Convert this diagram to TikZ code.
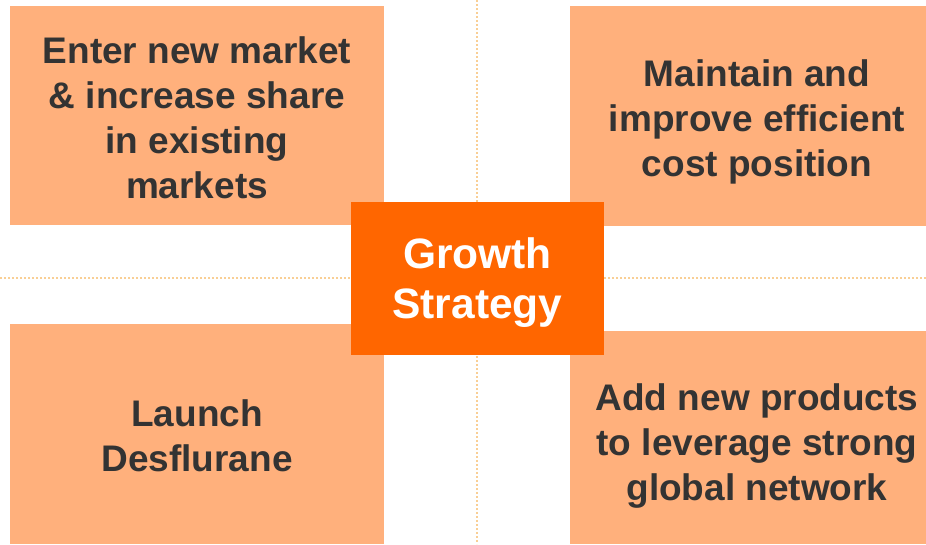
\documentclass[tikz,border=0pt]{standalone}
\usepackage{fontspec}
\setmainfont{Liberation Sans}
\definecolor{lightor}{HTML}{FFB07C}
\definecolor{darkor}{HTML}{FF6600}
\definecolor{txtgray}{HTML}{333333}
\definecolor{guide}{HTML}{F9CF95}
\begin{document}
\begin{tikzpicture}[x=1pt,y=-1pt,
  quad/.style={fill=lightor,draw=none},
  quadtext/.style={align=center,text=txtgray,font=\fontsize{37}{45}\selectfont\bfseries},
  guideline/.style={draw=guide,line width=1.2pt,dash pattern=on 2pt off 2pt},
  centrebox/.style={fill=darkor,draw=none},
  centretext/.style={text=white,align=center,font=\fontsize{42.5}{50}\selectfont\bfseries}]
\useasboundingbox (0,0) rectangle (926,544);
% guide lines
\coordinate (gt) at (477,0);
\coordinate (gb) at (477,544);
\coordinate (gl) at (0,278);
\coordinate (gr) at (926,278);
\draw[guideline] (gt) -- (gb);
\draw[guideline] (gl) -- (gr);
% quadrants
\fill[quad] (10,6) rectangle (384,225);
\fill[quad] (570,6) rectangle (926,226);
\fill[quad] (10,324) rectangle (384,544);
\fill[quad] (570,331) rectangle (926,544);
\node[quadtext] (tl) at (197,118) {Enter new market\\\& increase share\\in existing\\markets};
\node[quadtext] (tr) at (757,122) {Maintain and\\improve efficient\\cost position};
\node[quadtext] (bl) at (197,436) {Launch\\Desflurane};
\node[quadtext] (br) at (757,446) {Add new products\\to leverage strong\\global network};
% centre
\fill[centrebox] (351,202) rectangle (604,355);
\node[centretext] (c) at (477.5,283) {Growth\\Strategy};
\end{tikzpicture}
\end{document}
